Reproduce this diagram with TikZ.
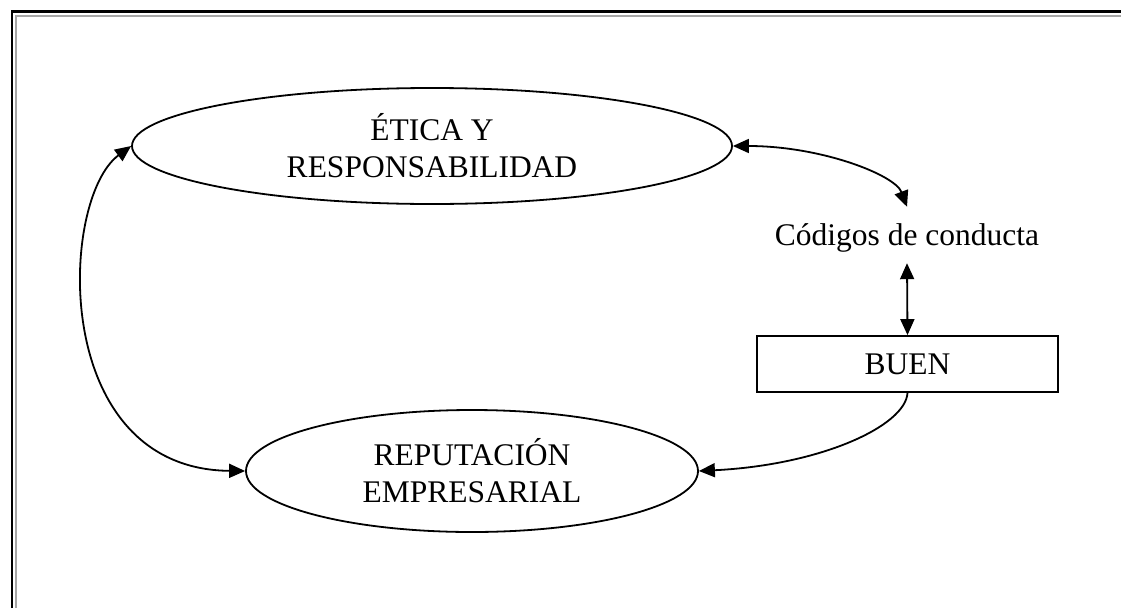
\documentclass[tikz,border=0pt]{standalone}
\usepackage{fontspec}
\setmainfont{Liberation Serif}
\usetikzlibrary{arrows.meta,shapes.geometric}
\tikzset{
  tip/.tip={Triangle[length=16pt,width=14pt]},
  conn/.style={line width=1.8pt},
  oval/.style={ellipse,draw,line width=1.8pt,inner sep=0pt,align=center,
    font=\fontsize{31.5}{37}\selectfont},
  boxnode/.style={rectangle,draw,line width=1.8pt,inner sep=0pt,
    font=\fontsize{31.5}{37}\selectfont,text height=21pt,text depth=0pt},
  plain/.style={inner xsep=0pt,inner ysep=10pt,text height=28pt,text depth=8pt,
    font=\fontsize{31.5}{37}\selectfont}
}
\begin{document}
\begin{tikzpicture}[x=1pt,y=-1pt]
\useasboundingbox (0,0) rectangle (1121,608);
% frame
\draw[line width=2.6pt,black] (12,608) -- (12,11.5) -- (1121,11.5);
\draw[line width=2.6pt,gray!70] (16,608) -- (16,16) -- (1121,16);
% nodes
\node[oval,minimum width=600pt,minimum height=116pt] (e1) at (432,146)
  {ÉTICA Y\\RESPONSABILIDAD};
\node[oval,minimum width=452pt,minimum height=122pt] (e2) at (472,471)
  {REPUTACIÓN\\EMPRESARIAL};
\node[plain,anchor=base] (cod) at (907,245) {Códigos de conducta};
\node[boxnode,minimum width=301pt,minimum height=56pt] (buen) at (907.5,364) {BUEN};
% connectors
\draw[conn,{tip}-{tip}] (e1.west) .. controls +(-72,53) and +(-196,-2) .. (e2.west);
\draw[conn,{tip}-{tip}] (e1.east) .. controls +(88,0) and +(-12,-32) .. (cod.north);
\draw[conn,{tip}-{tip}] (cod.south) -- (buen.north);
\draw[conn,-{tip}] (buen.south) .. controls +(-2,33) and +(122,-6) .. (e2.east);
\end{tikzpicture}
\end{document}
